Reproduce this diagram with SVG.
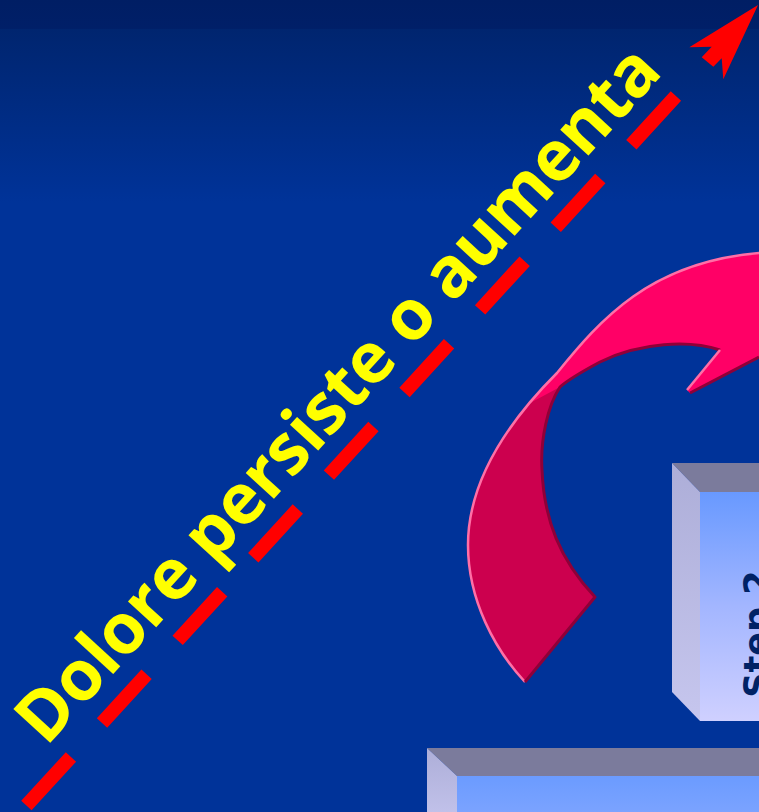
<svg xmlns="http://www.w3.org/2000/svg" width="759" height="812" viewBox="0 0 759 812">
  <defs>
    <linearGradient id="bgGrad" x1="0" y1="0" x2="0" y2="812" gradientUnits="userSpaceOnUse">
      <stop offset="0" stop-color="#001e64"/>
      <stop offset="0.035" stop-color="#001f68"/>
      <stop offset="0.036" stop-color="#00256f"/>
      <stop offset="0.25" stop-color="#003399"/>
      <stop offset="1" stop-color="#003399"/>
    </linearGradient>
    <linearGradient id="frontGrad2" x1="0" y1="0" x2="0" y2="1">
      <stop offset="0" stop-color="#6899ff"/>
      <stop offset="0.5" stop-color="#a3b6ff"/>
      <stop offset="1" stop-color="#cfd0ff"/>
    </linearGradient>
    <linearGradient id="frontGrad1" x1="0" y1="0" x2="0" y2="1">
      <stop offset="0" stop-color="#6b9bff"/>
      <stop offset="1" stop-color="#85a8ff"/>
    </linearGradient>
    <linearGradient id="sideGrad" x1="0" y1="0" x2="0" y2="1">
      <stop offset="0" stop-color="#adaed8"/>
      <stop offset="1" stop-color="#c6c6ee"/>
    </linearGradient>
    <clipPath id="tailClip">
      <polygon points="440,451 560,387 640,387 640,720 440,720"/>
    </clipPath>
    <style>
      .top { fill: #7b7b9c; }
      .side { fill: url(#sideGrad); }
      .label { font-family: "Open Sans", "DejaVu Sans", sans-serif; font-weight: bold; fill: #ffff00; }
      .step { font-family: "DejaVu Sans", "Verdana", sans-serif; font-weight: bold; fill: #002266; }
      .dash { fill: none; stroke: #ff0000; stroke-width: 14; stroke-dasharray: 66 46; stroke-linecap: butt; }
    </style>
  </defs>

  <rect id="background" x="0" y="0" width="759" height="812" fill="url(#bgGrad)"/>

  <g id="box-step1">
    <polygon class="top" points="427,748 790,748 790,776 457,776"/>
    <polygon class="side" points="427,748 457,776 457,830 427,830"/>
    <rect x="457" y="776" width="333" height="60" fill="url(#frontGrad1)"/>
  </g>

  <g id="box-step2">
    <polygon class="top" points="672,463 790,463 790,492 700,492"/>
    <polygon class="side" points="672,463 700,492 700,721 672,692"/>
    <rect x="700" y="492" width="90" height="229" fill="url(#frontGrad2)"/>
    <text class="step" font-size="35" text-anchor="middle" transform="translate(768.5,634) rotate(-90)">Step 2</text>
  </g>

  <g id="curved-arrow">
    <path d="M525,682 C495,650 468,600 468,545 C468,480 510,420 557,373 C600,320 650,262 759,253 L800,253 L800,340 L759,357 L690,393 L687,390 L720,350 C690,340 640,342 600,362 C585,370 570,378 560,387 C548,405 540,440 542,470 C544,520 560,560 595,597 Z" fill="#ff0066"/>
    <path d="M525,682 C495,650 468,600 468,545 C468,480 510,420 557,373 C600,320 650,262 759,253 L800,253 L800,340 L759,357 L690,393 L687,390 L720,350 C690,340 640,342 600,362 C585,370 570,378 560,387 C548,405 540,440 542,470 C544,520 560,560 595,597 Z" fill="#cc004e" clip-path="url(#tailClip)"/>
    <path d="M525,682 C495,650 468,600 468,545 C468,480 510,420 557,373 C600,320 650,262 759,253 L770,253" fill="none" stroke="#ff6fa6" stroke-width="2.5"/>
    <path d="M720,350 C690,340 640,342 600,362 C585,370 570,378 560,387 C548,405 540,440 542,470 C544,520 560,560 595,597 L525,682" fill="none" stroke="#8f0038" stroke-width="3" stroke-linejoin="round"/>
    <path d="M690,393 L759,357" fill="none" stroke="#8f0038" stroke-width="3"/>
    <path d="M720,350 L687,390" fill="none" stroke="#ff6fa6" stroke-width="2.5"/>
  </g>

  <g id="connectors">
    <path class="dash" d="M26.4,805.6 L707,62"/>
    <polygon points="758,5 689.3,47.3 711.7,46.7 701.7,57.3 713.3,66.7 721.7,58.3 723.3,79.3" fill="#ff0000"/>
  </g>

  <g id="label">
    <text class="label" font-size="70" textLength="915" lengthAdjust="spacing" transform="translate(46,747.4) rotate(-47.5)">Dolore persiste o aumenta</text>
  </g>
</svg>
